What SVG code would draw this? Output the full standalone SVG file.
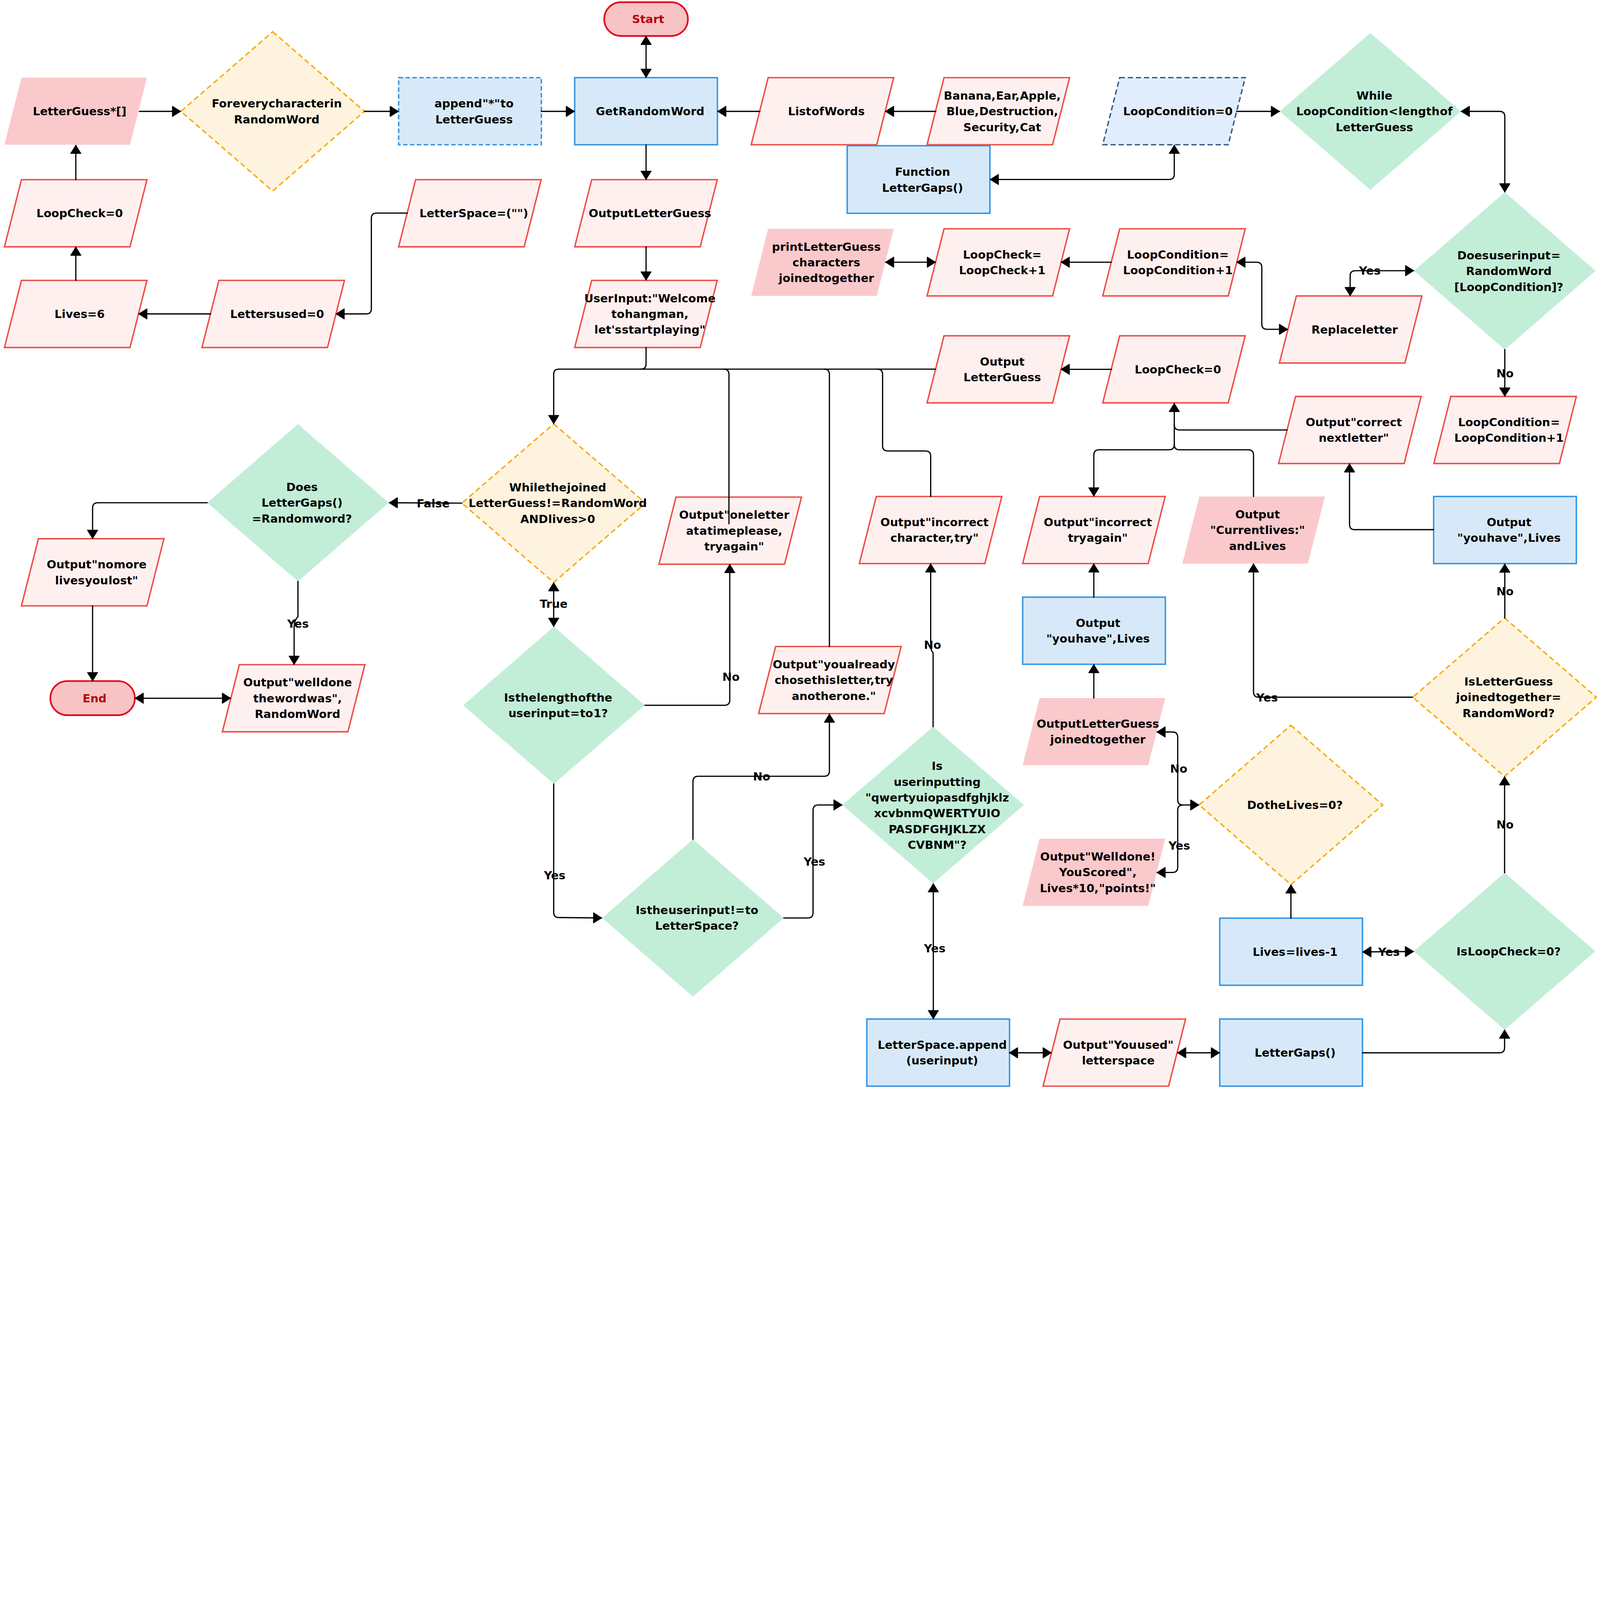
<svg xmlns="http://www.w3.org/2000/svg" width="7915" height="5386" viewBox="0 0 7915 5386" preserveAspectRatio="xMinYMin meet">
<defs>
<style>
svg:root{width:100vw;height:100vh}
.t{font-family:"DejaVu Sans","Liberation Sans",sans-serif;font-weight:bold;font-size:56px;text-anchor:middle;fill:#000;word-spacing:-18px}
.tr{fill:#b5000b}
.red{fill:#fff0f0;stroke:#ee4c45;stroke-width:7;stroke-linejoin:miter}
.pink{fill:#fac9cb}
.blue{fill:#d7e9f8;stroke:#3394e2;stroke-width:7}
.bdash{fill:#d7e9f8;stroke:#3394e2;stroke-width:7;stroke-dasharray:22 12}
.navy{fill:#e1edfd;stroke:#3d5b85;stroke-width:7;stroke-dasharray:26 14}
.green{fill:#c2eed8}
.orange{fill:#fef3de;stroke:#f7ab00;stroke-width:7;stroke-dasharray:26 16}
.term{fill:#f7c3c4;stroke:#e4001b;stroke-width:8}
.c{fill:none;stroke:#000;stroke-width:6;stroke-linejoin:round;stroke-linecap:round}
.e{marker-end:url(#ah)}
.b{marker-start:url(#ah);marker-end:url(#ah)}
</style>
<marker id="ah" viewBox="0 0 46 56" refX="44" refY="28" markerWidth="46" markerHeight="56" markerUnits="userSpaceOnUse" orient="auto-start-reverse">
<path d="M4,3 L44,28 L4,53 Z" fill="#000" stroke="#000" stroke-width="4" stroke-linejoin="round"/>
</marker>
</defs>
<rect width="7915" height="5386" fill="#fff"/>

<g id="nodes">
<g id="start"><rect class="term" x="2989" y="11" width="414" height="167" rx="83"/><text class="t tr" x="3206" y="114">Start</text></g>
<g id="end"><rect class="term" x="249" y="3369" width="418" height="169" rx="84"/><text class="t tr" x="468" y="3474">End</text></g>

<g id="letterguess-init"><polygon class="pink" points="106,384 727,384 643,716 22,716"/><text class="t" x="394" y="571">LetterGuess*[]</text></g>
<g id="for-every"><polygon class="orange" points="1349,157 1803,551 1349,945 895,551"/><text class="t" x="1369" y="532">For every character in</text><text class="t" x="1369" y="610">RandomWord</text></g>
<g id="append-star"><rect class="bdash" x="1972" y="384" width="706" height="332"/><text class="t" x="2345" y="532">append "*" to</text><text class="t" x="2345" y="610">LetterGuess</text></g>
<g id="get-random-word"><rect class="blue" x="2843" y="384" width="706" height="332"/><text class="t" x="3216" y="571">Get Random Word</text></g>
<g id="list-of-words"><polygon class="red" points="3800,384 4421,384 4337,716 3716,716"/><text class="t" x="4088" y="571">List of Words</text></g>
<g id="word-list"><polygon class="red" points="4670,384 5291,384 5207,716 4586,716"/><text class="t" x="4958" y="493">Banana, Ear, Apple,</text><text class="t" x="4958" y="571">Blue, Destruction,</text><text class="t" x="4958" y="649">Security, Cat</text></g>
<g id="loopcondition-init"><polygon class="navy" points="5539,384 6160,384 6076,716 5455,716"/><text class="t" x="5827" y="571">LoopCondition=0</text></g>
<g id="while-loopcondition"><polygon class="green" points="6779,163 7227,551 6779,939 6331,551"/><text class="t" x="6799" y="493">While</text><text class="t" x="6799" y="571">LoopCondition &lt; length of</text><text class="t" x="6799" y="649">LetterGuess</text></g>
<g id="function-lettergaps"><rect class="blue" x="4191" y="721" width="706" height="334"/><text class="t" x="4564" y="870">Function</text><text class="t" x="4564" y="948">LetterGaps()</text></g>

<g id="loopcheck-init"><polygon class="red" points="106,889 727,889 643,1221 22,1221"/><text class="t" x="394" y="1075">LoopCheck=0</text></g>
<g id="letterspace-init"><polygon class="red" points="2056,889 2677,889 2593,1221 1972,1221"/><text class="t" x="2344" y="1075">LetterSpace=("")</text></g>
<g id="output-letterguess-1"><polygon class="red" points="2927,889 3548,889 3464,1221 2843,1221"/><text class="t" x="3215" y="1075">Output LetterGuess</text></g>
<g id="print-letterguess"><polygon class="pink" points="3800,1132 4421,1132 4337,1464 3716,1464"/><text class="t" x="4088" y="1240">print LetterGuess</text><text class="t" x="4088" y="1318">characters</text><text class="t" x="4088" y="1396">joined together</text></g>
<g id="loopcheck-inc"><polygon class="red" points="4670,1132 5291,1132 5207,1464 4586,1464"/><text class="t" x="4958" y="1279">LoopCheck=</text><text class="t" x="4958" y="1357">LoopCheck+1</text></g>
<g id="loopcondition-inc-1"><polygon class="red" points="5539,1132 6160,1132 6076,1464 5455,1464"/><text class="t" x="5827" y="1279">LoopCondition =</text><text class="t" x="5827" y="1357">LoopCondition +1</text></g>
<g id="does-userinput-match"><polygon class="green" points="7444,951 7893,1340 7444,1729 6995,1340"/><text class="t" x="7464" y="1283">Does userinput =</text><text class="t" x="7464" y="1361">RandomWord</text><text class="t" x="7464" y="1440">[LoopCondition]?</text></g>
<g id="replace-letter"><polygon class="red" points="6413,1464 7034,1464 6950,1796 6329,1796"/><text class="t" x="6701" y="1650">Replace letter</text></g>

<g id="lives-init"><polygon class="red" points="106,1387 727,1387 643,1719 22,1719"/><text class="t" x="394" y="1573">Lives=6</text></g>
<g id="letters-used-init"><polygon class="red" points="1083,1387 1704,1387 1620,1719 999,1719"/><text class="t" x="1371" y="1573">Letters used=0</text></g>
<g id="user-input"><polygon class="red" points="2927,1387 3548,1387 3464,1719 2843,1719"/><text class="t" x="3215" y="1495">User Input:"Welcome</text><text class="t" x="3215" y="1573">to hangman,</text><text class="t" x="3215" y="1651">let's start playing"</text></g>
<g id="output-letterguess-2"><polygon class="red" points="4670,1661 5291,1661 5207,1993 4586,1993"/><text class="t" x="4958" y="1808">Output</text><text class="t" x="4958" y="1886">LetterGuess</text></g>
<g id="loopcheck-reset"><polygon class="red" points="5539,1661 6160,1661 6076,1993 5455,1993"/><text class="t" x="5827" y="1847">LoopCheck=0</text></g>
<g id="output-correct"><polygon class="red" points="6409,1961 7030,1961 6946,2293 6325,2293"/><text class="t" x="6697" y="2108">Output "correct</text><text class="t" x="6697" y="2186">next letter"</text></g>
<g id="loopcondition-inc-2"><polygon class="red" points="7177,1961 7798,1961 7714,2293 7093,2293"/><text class="t" x="7465" y="2108">LoopCondition =</text><text class="t" x="7465" y="2186">LoopCondition+1</text></g>

<g id="while-joined"><polygon class="orange" points="2739,2097 3193,2489 2739,2881 2285,2489"/><text class="t" x="2759" y="2431">While the joined</text><text class="t" x="2759" y="2509">LetterGuess != RandomWord</text><text class="t" x="2759" y="2587">AND lives&gt;0</text></g>
<g id="does-lettergaps"><polygon class="green" points="1474,2098 1923,2487 1474,2876 1025,2487"/><text class="t" x="1494" y="2429">Does</text><text class="t" x="1494" y="2507">LetterGaps()</text><text class="t" x="1494" y="2585">=Randomword?</text></g>
<g id="output-no-more-lives"><polygon class="red" points="190,2665 811,2665 727,2997 106,2997"/><text class="t" x="478" y="2812">Output "no more</text><text class="t" x="478" y="2890">lives you lost"</text></g>
<g id="output-one-letter"><polygon class="red" points="3344,2459 3965,2459 3881,2791 3260,2791"/><text class="t" x="3632" y="2567">Output "one letter</text><text class="t" x="3632" y="2645">at a time please,</text><text class="t" x="3632" y="2723">try again"</text></g>
<g id="output-incorrect-character"><polygon class="red" points="4335,2456 4956,2456 4872,2788 4251,2788"/><text class="t" x="4623" y="2603">Output "incorrect</text><text class="t" x="4623" y="2681">character, try"</text></g>
<g id="output-incorrect-try"><polygon class="red" points="5143,2456 5764,2456 5680,2788 5059,2788"/><text class="t" x="5431" y="2603">Output "incorrect</text><text class="t" x="5431" y="2681">try again"</text></g>
<g id="output-current-lives"><polygon class="pink" points="5933,2456 6554,2456 6470,2788 5849,2788"/><text class="t" x="6221" y="2564">Output</text><text class="t" x="6221" y="2642">"Current lives:"</text><text class="t" x="6221" y="2720">and Lives</text></g>
<g id="output-you-have-1"><rect class="blue" x="7092" y="2456" width="706" height="332"/><text class="t" x="7465" y="2603">Output</text><text class="t" x="7465" y="2681">"you have", Lives</text></g>

<g id="output-well-done-word"><polygon class="red" points="1184,3288 1805,3288 1721,3620 1100,3620"/><text class="t" x="1472" y="3396">Output "well done</text><text class="t" x="1472" y="3474">the word was",</text><text class="t" x="1472" y="3552">RandomWord</text></g>
<g id="is-length-one"><polygon class="green" points="2740,3100 3189,3489 2740,3878 2291,3489"/><text class="t" x="2761" y="3470">Is the length of the</text><text class="t" x="2761" y="3548">userinput = to 1?</text></g>
<g id="output-already-chose"><polygon class="red" points="3837,3198 4458,3198 4374,3530 3753,3530"/><text class="t" x="4125" y="3306">Output "you already</text><text class="t" x="4125" y="3384">chose this letter, try</text><text class="t" x="4125" y="3462">another one."</text></g>
<g id="output-you-have-2"><rect class="blue" x="5059" y="2954" width="706" height="332"/><text class="t" x="5432" y="3101">Output</text><text class="t" x="5432" y="3179">"you have", Lives</text></g>
<g id="output-letterguess-joined"><polygon class="pink" points="5143,3453 5764,3453 5680,3785 5059,3785"/><text class="t" x="5431" y="3600">Output LetterGuess</text><text class="t" x="5431" y="3678">joined together</text></g>
<g id="is-letterguess-joined"><polygon class="orange" points="7443,3057 7897,3449 7443,3841 6989,3449"/><text class="t" x="7463" y="3391">Is LetterGuess</text><text class="t" x="7463" y="3469">joined together =</text><text class="t" x="7463" y="3547">RandomWord?</text></g>
<g id="is-user-inputting"><polygon class="green" points="4616,3595 5065,3982 4616,4370 4167,3982"/><text class="t" x="4636" y="3809">Is</text><text class="t" x="4636" y="3887">userinputting</text><text class="t" x="4636" y="3965">"qwertyuiopasdfghjklz</text><text class="t" x="4636" y="4043">xcvbnmQWERTYUIO</text><text class="t" x="4636" y="4121">PASDFGHJKLZX</text><text class="t" x="4636" y="4199">CVBNM"?</text></g>
<g id="do-lives-zero"><polygon class="orange" points="6386,3588 6840,3982 6386,4376 5932,3982"/><text class="t" x="6406" y="4002">Do the Lives=0?</text></g>
<g id="output-well-done-score"><polygon class="pink" points="5143,4149 5764,4149 5680,4481 5059,4481"/><text class="t" x="5431" y="4257">Output "Well done!</text><text class="t" x="5431" y="4335">You Scored",</text><text class="t" x="5431" y="4413">Lives*10, "points!"</text></g>
<g id="is-not-letterspace"><polygon class="green" points="3428,4152 3877,4541 3428,4930 2979,4541"/><text class="t" x="3448" y="4522">Is the userinput != to</text><text class="t" x="3448" y="4600">LetterSpace?</text></g>
<g id="lives-decrement"><rect class="blue" x="6034" y="4542" width="706" height="332"/><text class="t" x="6407" y="4728">Lives = lives-1</text></g>
<g id="is-loopcheck-zero"><polygon class="green" points="7443,4318 7892,4706 7443,5094 6994,4706"/><text class="t" x="7463" y="4726">Is LoopCheck=0?</text></g>
<g id="letterspace-append"><rect class="blue" x="4288" y="5041" width="706" height="332"/><text class="t" x="4661" y="5188">LetterSpace.append</text><text class="t" x="4661" y="5266">(userinput)</text></g>
<g id="output-you-used"><polygon class="red" points="5244,5041 5865,5041 5781,5373 5160,5373"/><text class="t" x="5532" y="5188">Output "You used"</text><text class="t" x="5532" y="5266">letter space</text></g>
<g id="lettergaps-call"><rect class="blue" x="6034" y="5041" width="706" height="332"/><text class="t" x="6407" y="5227">LetterGaps()</text></g>
</g>

<g id="connectors">
<path class="c e" d="M690 551 L893 551"/>
<path class="c e" d="M1803 551 L1970 551"/>
<path class="c e" d="M2678 551 L2841 551"/>
<path class="c b" d="M3196 180 L3196 382"/>
<path class="c e" d="M3759 551 L3551 551"/>
<path class="c e" d="M4629 551 L4381 551"/>
<path class="c e" d="M6117 551 L6329 551"/>
<path class="c b" d="M4899 888 L5783 888 Q5809 888 5809 862 L5809 719"/>
<path class="c b" d="M7229 551 L7418 551 Q7444 551 7444 577 L7444 949"/>
<path class="c b" d="M6993 1339 L6705 1339 Q6679 1339 6679 1365 L6679 1462"/>
<path class="c b" d="M6119 1297 L6216 1297 Q6242 1297 6242 1323 L6242 1603 Q6242 1629 6268 1629 L6369 1629"/>
<path class="c e" d="M5497 1297 L5250 1297"/>
<path class="c b" d="M4381 1297 L4627 1297"/>
<path class="c e" d="M3196 717 L3196 887"/>
<path class="c e" d="M3196 1221 L3196 1385"/>
<path class="c e" d="M2015 1054 L1863 1054 Q1837 1054 1837 1080 L1837 1527 Q1837 1553 1811 1553 L1663 1553"/>
<path class="c e" d="M1042 1553 L687 1553"/>
<path class="c e" d="M375 1387 L375 1223"/>
<path class="c e" d="M375 889 L375 719"/>
<path class="c e" d="M3196 1719 L3196 1800 Q3196 1826 3170 1826 L2765 1826 Q2739 1826 2739 1852 L2739 2095"/>
<path class="c" d="M4627 1826 L3170 1826"/>
<path class="c" d="M3580 1826 Q3606 1826 3606 1852 L3606 2591"/>
<path class="c" d="M4077 1826 Q4103 1826 4103 1852 L4103 3198"/>
<path class="c" d="M4340 1826 Q4366 1826 4366 1852 L4366 2205 Q4366 2231 4392 2231 L4578 2231 Q4604 2231 4604 2257 L4604 2456"/>
<path class="c e" d="M5499 1827 L5250 1827"/>
<path class="c e" d="M6201 2456 L6201 2251 Q6201 2225 6175 2225 L5835 2225 Q5809 2225 5809 2199 L5809 1996"/>
<path class="c" d="M6367 2127 L5835 2127 Q5809 2127 5809 2101"/>
<path class="c e" d="M5809 2199 Q5809 2225 5783 2225 L5437 2225 Q5411 2225 5411 2251 L5411 2453"/>
<path class="c e" d="M7092 2620 L6702 2620 Q6676 2620 6676 2594 L6676 2295"/>
<path class="c e" d="M7444 1729 L7444 1959"/>
<path class="c e" d="M7444 3057 L7444 2791"/>
<path class="c e" d="M6989 3449 L6227 3449 Q6201 3449 6201 3423 L6201 2790"/>
<path class="c e" d="M7443 4318 L7443 3843"/>
<path class="c e" d="M6740 5208 L7417 5208 Q7443 5208 7443 5182 L7443 5096"/>
<path class="c b" d="M6742 4709 L6992 4707"/>
<path class="c e" d="M6386 4542 L6386 4378"/>
<path class="c b" d="M5930 3982 L5852 3982 Q5826 3982 5826 3956 L5826 3647 Q5826 3621 5800 3621 L5724 3621"/>
<path class="c e" d="M5852 3982 Q5826 3982 5826 4008 L5826 4290 Q5826 4316 5800 4316 L5724 4316"/>
<path class="c e" d="M5411 3453 L5411 3288"/>
<path class="c e" d="M5411 2954 L5411 2790"/>
<path class="c e" d="M4616 3595 L4616 3230 Q4604 3215 4604 3195 L4604 2790"/>
<path class="c e" d="M3190 3489 L3584 3489 Q3610 3489 3610 3463 L3610 2793"/>
<path class="c b" d="M2739 2883 L2739 3098"/>
<path class="c e" d="M2285 2489 L1926 2487"/>
<path class="c e" d="M1025 2487 L484 2487 Q458 2487 458 2513 L458 2663"/>
<path class="c e" d="M1474 2876 L1474 3050 Q1455 3070 1455 3100 L1455 3286"/>
<path class="c e" d="M458 2997 L458 3367"/>
<path class="c b" d="M669 3454 L1140 3454"/>
<path class="c e" d="M2739 3878 L2739 4513 Q2739 4539 2765 4539 L2976 4541"/>
<path class="c e" d="M3428 4152 L3428 3866 Q3428 3840 3454 3840 L4077 3840 Q4103 3840 4103 3814 L4103 3533"/>
<path class="c e" d="M3877 4541 L3996 4541 Q4022 4541 4022 4515 L4022 4008 Q4022 3982 4048 3982 L4165 3982"/>
<path class="c b" d="M4617 4372 L4617 5039"/>
<path class="c b" d="M4994 5208 L5200 5208"/>
<path class="c b" d="M5826 5208 L6032 5208"/>
<g id="edge-labels">
<text class="t" x="6776" y="1359">Yes</text>
<text class="t" x="7445" y="1867">No</text>
<text class="t" x="7445" y="2945">No</text>
<text class="t" x="6268" y="3470">Yes</text>
<text class="t" x="7445" y="4098">No</text>
<text class="t" x="6871" y="4729">Yes</text>
<text class="t" x="5831" y="3823">No</text>
<text class="t" x="5834" y="4203">Yes</text>
<text class="t" x="4613" y="3210">No</text>
<text class="t" x="3616" y="3369">No</text>
<text class="t" x="2739" y="3006">True</text>
<text class="t" x="2143" y="2510">False</text>
<text class="t" x="1474" y="3106">Yes</text>
<text class="t" x="2744" y="4349">Yes</text>
<text class="t" x="3768" y="3860">No</text>
<text class="t" x="4029" y="4282">Yes</text>
<text class="t" x="4624" y="4712">Yes</text>
</g>
</g>
</svg>
